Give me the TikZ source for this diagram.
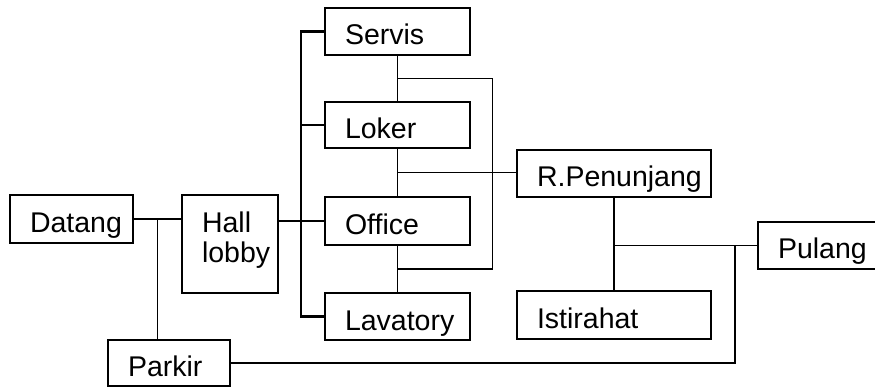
\documentclass[tikz,border=0pt]{standalone}
\usepackage{fontspec}
\setmainfont{Liberation Sans}
\usetikzlibrary{calc}
\begin{document}
\begin{tikzpicture}[x=1pt,y=-1pt,
  box/.style={draw, line width=1.9pt, inner xsep=20pt, inner ysep=0pt, align=left,
    font=\fontsize{28.5}{30}\selectfont, text height=27pt, text depth=0pt},
  conn/.style={line width=1.6pt},
  spine/.style={line width=2.4pt}]
\path[use as bounding box, clip] (0,0) rectangle (875,387);
% boxes
\node[box, text width=105pt, minimum height=47pt] (servis) at (397.5,31.5) {Servis};
\node[box, text width=105pt, minimum height=46pt] (loker) at (397.5,125) {Loker};
\node[box, text width=105pt, minimum height=48pt] (office) at (397.5,221) {Office};
\node[box, text width=105pt, minimum height=47pt] (lav) at (397.5,316.5) {Lavatory};
\node[box, text width=83pt, minimum height=48pt] (datang) at (71.5,219) {Datang};
\node[box, text width=56pt, minimum height=98pt, text height=20pt, text depth=42pt] (hall) at (230,244) {Hall\\lobby};
\node[box, text width=82pt, minimum height=46pt] (parkir) at (169,363) {Parkir};
\node[box, text width=154pt, minimum height=47pt] (rpen) at (614,173.5) {\makebox[154pt][l]{R.Penunjang}};
\node[box, text width=154pt, minimum height=48pt] (istirahat) at (614,315) {Istirahat};
\node[box, text width=102pt, minimum height=47pt] (pulang) at (829,245.5) {Pulang};
% junctions
\coordinate (j1) at ($(datang.east)!0.5!(datang.east -| hall.west)$);
\coordinate (m1) at ($(servis.south)!0.5!(loker.north)$);
\coordinate (m2) at ($(loker.south)!0.5!(office.north)$);
\coordinate (m3) at ($(office.south)!0.5!(lav.north)$);
% connectors
\draw[conn] (datang.east) -- (datang.east -| hall.west);
\draw[conn] (j1) -- (j1 |- parkir.north);
\draw[conn] (hall.east |- office.west) -- (office.west);
\draw[spine] (servis.west) -- ++(-23,0) |- (lav.west);
\draw[conn] (loker.west) -- ++(-23,0);
\draw[conn] (servis.south) -- (loker.north);
\draw[conn] (loker.south) -- (office.north);
\draw[conn] (office.south) -- (lav.north);
\draw[conn] (m1) -- ++(95,0) |- (m3);
\draw[conn] (m2) -- (m2 -| rpen.west);
\draw[conn] (rpen.south) -- (istirahat.north);
\draw[conn] (pulang.west) -- (pulang.west -| rpen.south);
\draw[conn] ($(lav.east)+(0,7.5)$) -- ($(lav.east)+(0,7.5)$ -| istirahat.west);
\draw[conn] (parkir.east) -- ++(504,0) |- (pulang.west);
\end{tikzpicture}
\end{document}
